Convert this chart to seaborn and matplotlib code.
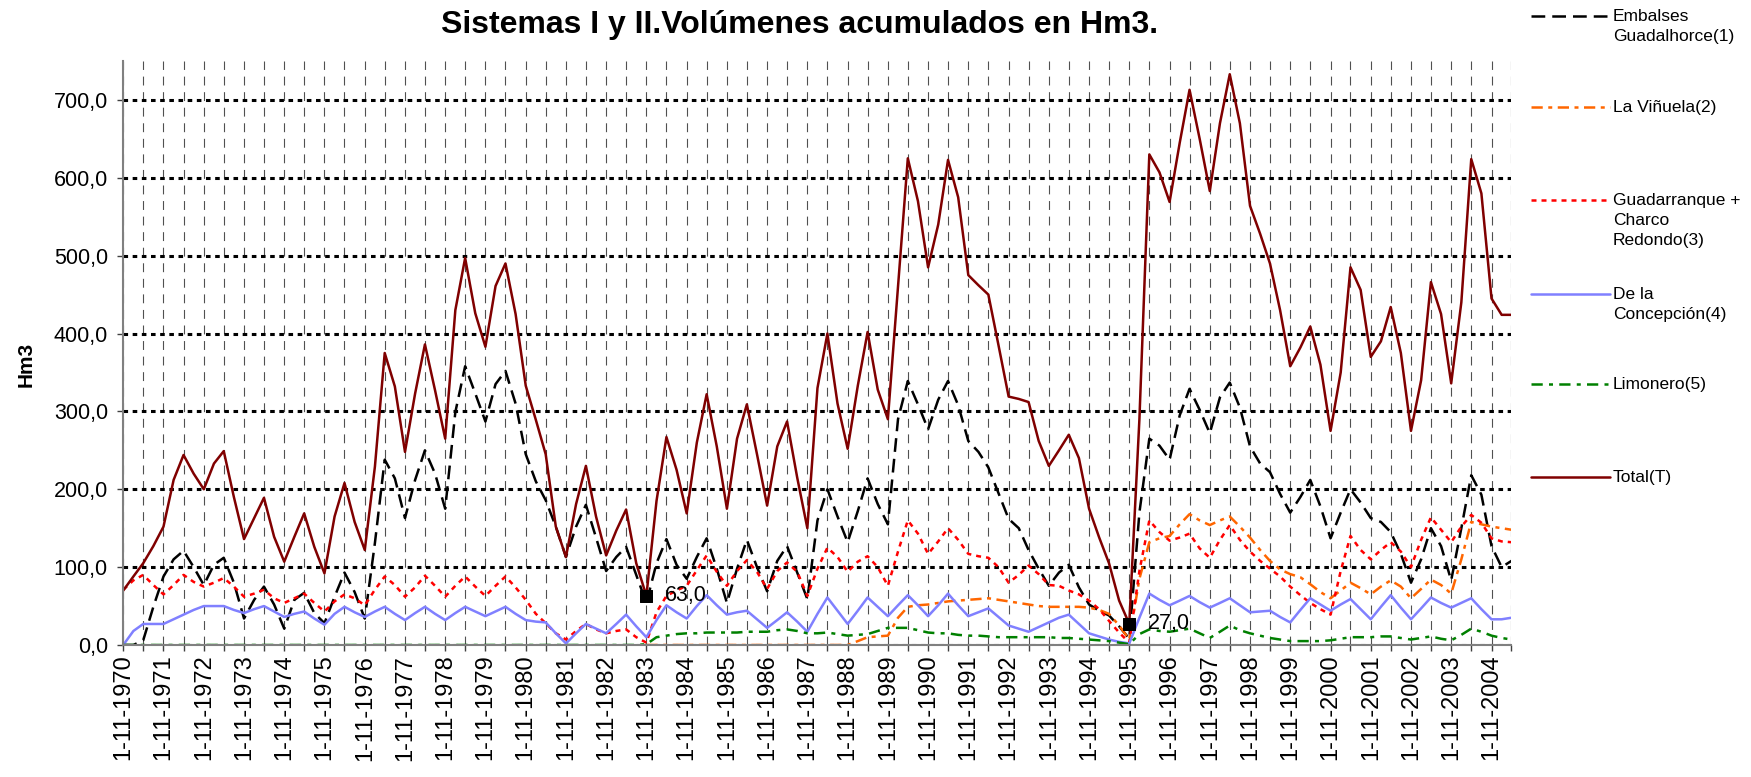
import seaborn as sns
import pandas as pd
import matplotlib.pyplot as plt
import matplotlib.dates as mdates
from matplotlib.lines import Line2D
from matplotlib.ticker import FuncFormatter

# Volumenes trimestrales (Hm3), lectura del grafico; 1-11-1970 .. 1-5-2005
inicio = "1970-11-01"
total = [70, 88, 105, 127, 152, 212, 244, 220, 200, 233, 249, 190,
         136, 163, 189, 139, 107, 139, 169, 126, 92, 165, 208, 158,
         122, 229, 375, 332, 248, 323, 386, 327, 265, 430, 497, 426,
         383, 461, 490, 425, 333, 289, 245, 152, 113, 181, 230, 165,
         115, 147, 174, 105, 63, 185, 267, 225, 169, 260, 322, 255,
         175, 265, 309, 245, 179, 255, 287, 215, 150, 330, 400, 310,
         252, 333, 402, 328, 290, 460, 625, 570, 485, 540, 623, 575,
         475, 462, 450, 385, 319, 316, 312, 262, 230, 250, 270, 240,
         175, 138, 105, 57, 27, 290, 630, 607, 569, 645, 713, 650,
         583, 670, 733, 670, 564, 528, 490, 430, 358, 382, 409, 360,
         275, 350, 485, 456, 370, 390, 434, 375, 275, 340, 466, 425,
         336, 440, 624, 580, 445, 424, 424]
guadalhorce = [0, 0, 6, 49, 88, 110, 121, 100, 77, 103, 112, 80,
               34, 58, 75, 52, 21, 58, 67, 41, 28, 62, 93, 68,
               34, 131, 238, 214, 163, 212, 250, 220, 175, 299, 358, 323,
               287, 335, 352, 310, 245, 210, 186, 152, 113, 152, 180, 138,
               95, 113, 126, 90, 54, 105, 136, 103, 85, 113, 137, 98,
               54, 98, 135, 100, 69, 108, 127, 93, 59, 160, 200, 165,
               132, 172, 214, 181, 155, 290, 339, 309, 277, 315, 339, 308,
               262, 248, 228, 195, 162, 150, 122, 98, 76, 93, 103, 74,
               52, 44, 38, 24, 8, 170, 265, 256, 238, 295, 329, 302,
               272, 318, 337, 305, 255, 233, 222, 194, 170, 190, 212, 178,
               137, 170, 200, 183, 163, 158, 145, 117, 80, 110, 150, 127,
               83, 150, 218, 193, 127, 100, 108]
guadarranque = [71, 83, 90, 77, 65, 77, 90, 81, 75, 80, 86, 75,
                62, 66, 71, 60, 54, 60, 66, 54, 43, 56, 65, 60,
                51, 71, 88, 77, 62, 74, 89, 76, 62, 76, 88, 75,
                63, 76, 88, 74, 58, 40, 28, 15, 7, 18, 27, 20,
                15, 18, 20, 10, 3, 42, 63, 70, 76, 96, 115, 94,
                76, 95, 109, 94, 72, 95, 106, 94, 63, 98, 125, 113,
                94, 107, 114, 100, 76, 120, 160, 143, 117, 133, 150, 135,
                117, 114, 112, 100, 80, 90, 102, 91, 77, 76, 70, 65,
                57, 46, 31, 16, 3, 95, 160, 145, 134, 138, 143, 124,
                112, 135, 154, 135, 120, 108, 98, 88, 75, 64, 54, 46,
                39, 95, 140, 122, 110, 122, 132, 120, 100, 135, 164, 148,
                132, 152, 167, 157, 137, 133, 132]
concepcion = [0, 18, 27, 27, 27, 33, 39, 45, 50, 50, 50, 45,
              41, 46, 50, 43, 36, 40, 43, 34, 26, 40, 49, 42,
              36, 43, 49, 40, 32, 41, 49, 40, 32, 41, 49, 43,
              37, 43, 49, 40, 32, 30, 29, 15, 2, 15, 27, 21,
              15, 27, 39, 24, 10, 32, 51, 42, 34, 50, 64, 51,
              39, 42, 44, 33, 22, 32, 42, 30, 17, 40, 61, 44,
              27, 44, 61, 49, 37, 51, 64, 51, 37, 51, 66, 51,
              37, 42, 47, 36, 25, 21, 17, 23, 29, 35, 39, 27,
              15, 11, 7, 4, 2, 35, 66, 58, 51, 57, 63, 55,
              48, 54, 60, 51, 42, 43, 44, 36, 29, 45, 60, 52,
              44, 52, 59, 46, 33, 49, 64, 48, 33, 47, 61, 54,
              48, 54, 60, 46, 33, 33, 35]
limonero = [0, 0, 0, 0, 0, 0, 0, 0, 0, 0, 0, 0,
            0, 0, 0, 0, 0, 0, 0, 0, 0, 0, 0, 0,
            0, 0, 0, 0, 0, 0, 0, 0, 0, 0, 0, 0,
            0, 0, 0, 0, 0, 0, 0, 0, 0, 0, 0, 0,
            0, 0, 0, 0, 1, 10, 12, 14, 15, 15, 16, 16,
            16, 16, 17, 17, 17, 19, 20, 18, 15, 15, 16, 14,
            12, 13, 14, 18, 22, 22, 22, 19, 16, 15, 15, 13,
            12, 12, 11, 10, 10, 10, 10, 10, 10, 9, 9, 8,
            7, 6, 5, 3, 1, 14, 20, 18, 17, 19, 21, 15,
            9, 17, 25, 19, 15, 12, 9, 7, 5, 5, 5, 5,
            6, 8, 10, 10, 10, 11, 11, 9, 7, 9, 11, 8,
            6, 13, 21, 17, 12, 9, 7]
# La Viñuela empieza en 1-11-1983
inicio_vinuela = "1983-11-01"
vinuela = [0, 0, 0, 0, 0, 0, 0, 0, 0, 0, 0, 0,
           0, 0, 0, 0, 0, 0, 0, 0, 0, 5, 10, 11,
           12, 35, 49, 51, 52, 54, 56, 57, 58, 59, 60, 58,
           56, 54, 52, 50, 49, 49, 49, 49, 48, 45, 40, 25,
           7, 85, 132, 137, 140, 155, 168, 160, 154, 160, 165, 152,
           138, 122, 108, 97, 91, 87, 78, 68, 60, 70, 80, 73,
           65, 75, 83, 75, 60, 72, 84, 77, 66, 110, 158, 155,
           152, 150, 148]
marcados = ["1983-11-01", "1995-11-01"]

nombres = ["Embalses Guadalhorce(1)", "La Viñuela(2)",
           "Guadarranque + Charco Redondo(3)", "De la Concepción(4)",
           "Limonero(5)", "Total(T)"]
etiquetas = ["Embalses\nGuadalhorce(1)", "La Viñuela(2)",
             "Guadarranque +\nCharco\nRedondo(3)", "De la\nConcepción(4)",
             "Limonero(5)", "Total(T)"]
colores = ["#000000", "#FF6600", "#FF0000", "#8080FF", "#008000", "#800000"]
trazos = [(5.5, 2.8), (4.5, 2.2, 1.6, 2.2), (2, 2), "", (4.5, 2.5, 1.6, 2.5), ""]

series = [(nombres[0], inicio, guadalhorce), (nombres[1], inicio_vinuela, vinuela),
          (nombres[2], inicio, guadarranque), (nombres[3], inicio, concepcion),
          (nombres[4], inicio, limonero), (nombres[5], inicio, total)]
frames = []
for nombre, ini, vals in series:
    frames.append(pd.DataFrame({"fecha": pd.date_range(ini, periods=len(vals), freq="3MS"),
                                "serie": nombre, "Hm3": vals}))
df = pd.concat(frames, ignore_index=True)

sns.set_theme(style="white")
plt.rcParams["font.family"] = ["Liberation Sans", "DejaVu Sans"]
plt.rcParams.update({"text.color": "black", "axes.labelcolor": "black",
                     "xtick.color": "black", "ytick.color": "black"})

fig = plt.figure(figsize=(17.51, 7.77), dpi=100)
ax = fig.add_axes([0.0704, 0.1699, 0.7928, 0.7516])

sns.lineplot(data=df, x="fecha", y="Hm3", hue="serie", style="serie",
             hue_order=nombres, style_order=nombres,
             palette=dict(zip(nombres, colores)), dashes=dict(zip(nombres, trazos)),
             linewidth=1.8, legend=False, errorbar=None, ax=ax)

# puntos minimos marcados
tot = df[df["serie"] == "Total(T)"]
pts = tot[tot["fecha"].isin(pd.to_datetime(marcados))]
sns.scatterplot(data=pts, x="fecha", y="Hm3", marker="s", s=80, color="black",
                edgecolor="black", zorder=5, legend=False, ax=ax)
for _, r in pts.iterrows():
    ax.annotate(f"{r['Hm3']:.1f}".replace(".", ","), (r["fecha"], r["Hm3"]),
                xytext=(13.5, 0), textcoords="offset points", va="center",
                ha="left", fontsize=15.5, color="black")

ax.set_xlim(pd.Timestamp(inicio), tot["fecha"].max())
ax.set_ylim(0, 750)
ax.set_yticks(range(0, 701, 100))
ax.yaxis.set_major_formatter(FuncFormatter(lambda v, p: f"{v:.1f}".replace(".", ",")))
ax.xaxis.set_major_locator(mdates.MonthLocator(bymonth=11))
ax.xaxis.set_minor_locator(mdates.MonthLocator(bymonth=5))
ax.xaxis.set_major_formatter(FuncFormatter(
    lambda v, p: "{0.day}-{0.month}-{0.year}".format(mdates.num2date(v))))
plt.setp(ax.get_xticklabels(), rotation=90)

ax.tick_params(axis="x", which="both", direction="out", length=4, width=1,
               color="#404040", bottom=True, labelsize=17, pad=3)
ax.tick_params(axis="y", direction="out", length=4, width=1, color="#404040",
               left=True, labelsize=15.5, pad=7)

ax.grid(axis="x", which="both", color="#505050", linewidth=0.8, linestyle=(0, (8, 6)))
ax.grid(axis="y", which="major", color="black", linewidth=2.2, linestyle=(0, (1.5, 1.5)))
ax.set_axisbelow(True)
for s in ["top", "right"]:
    ax.spines[s].set_visible(False)
for s in ["left", "bottom"]:
    ax.spines[s].set_color("#808080")
    ax.spines[s].set_linewidth(1.5)

ax.set_xlabel("")
ax.set_ylabel("Hm3", fontsize=15, fontweight="bold")
ax.yaxis.set_label_coords(-0.063, 0.48)

fig.text(800 / 1751, 1 - 25 / 777, "Sistemas I y II.Volúmenes acumulados en Hm3.",
         ha="center", va="center", fontsize=23, fontweight="bold")

# leyenda a la derecha
ys = [15.7, 107, 200, 294, 384, 477]
for lab, col, tr, y in zip(etiquetas, colores, trazos, ys):
    yf = 1 - y / 777
    ln = Line2D([1531 / 1751, 1610 / 1751], [yf, yf], color=col, linewidth=1.8,
                transform=fig.transFigure)
    if tr:
        ln.set_dashes(tr)
    fig.add_artist(ln)
    fig.text(1613 / 1751, 1 - (y - 7) / 777, lab, ha="left", va="top",
             fontsize=12.5, linespacing=1.42)

plt.savefig("out.png", dpi=100)
